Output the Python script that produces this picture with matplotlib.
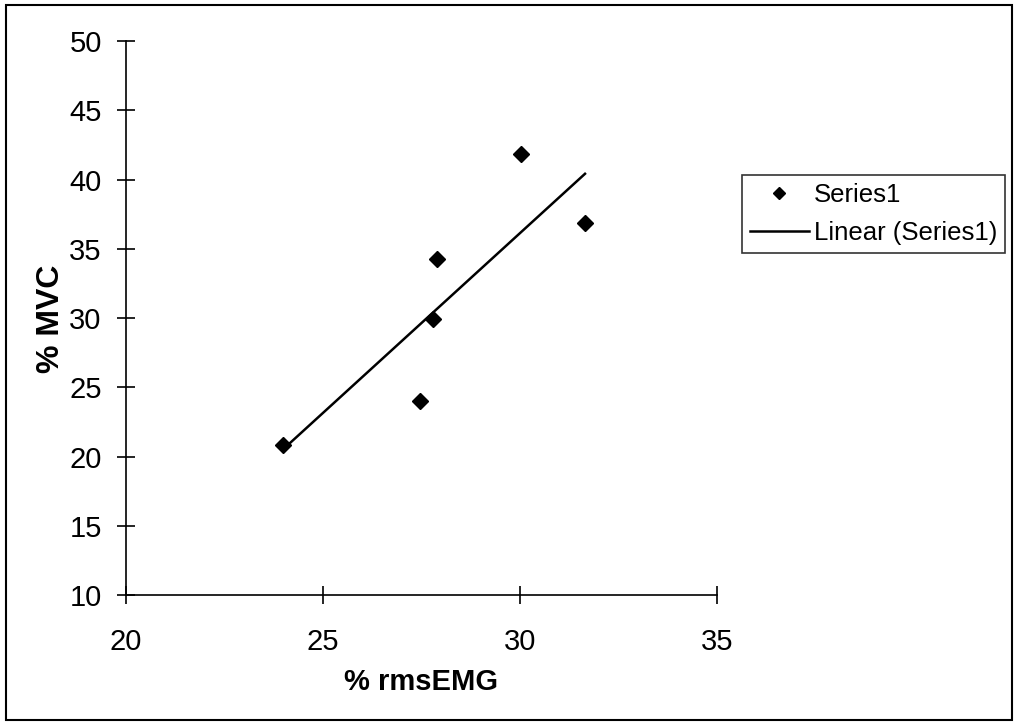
import numpy as np
import matplotlib
matplotlib.use('Agg')
from matplotlib import pyplot as plt
from matplotlib.patches import Rectangle

# %rmsEMG vs %MVC measurements
rms_emg = [23.99, 27.46, 27.78, 27.90, 30.03, 31.65]
mvc = [20.83, 24.01, 29.91, 34.28, 41.82, 36.88]

x_ticks = [20, 25, 30, 35]
y_ticks = [10, 15, 20, 25, 30, 35, 40, 45, 50]

plt.rcParams['font.family'] = ['Liberation Sans', 'DejaVu Sans']

fig = plt.figure(figsize=(10.16, 7.26), dpi=100)
ax = fig.add_axes([0.124, 0.1804, 0.5817, 0.7631])

# scatter points
ax.plot(rms_emg, mvc, 'D', color='black', markersize=8.5, label='Series1',
        clip_on=False, zorder=3)

# least squares trendline over the data range
slope, intercept = np.polyfit(rms_emg, mvc, 1)
xs = np.array([min(rms_emg), max(rms_emg)])
ax.plot(xs, slope * xs + intercept, color='black', lw=1.8,
        label='Linear (Series1)')

ax.set_xlim(20, 35)
ax.set_ylim(10, 50)
ax.set_xticks(x_ticks)
ax.set_yticks(y_ticks)

for s in ['top', 'right']:
    ax.spines[s].set_visible(False)
for s in ['left', 'bottom']:
    ax.spines[s].set_linewidth(1.2)
    ax.spines[s].set_color('black')

ax.tick_params(axis='both', direction='inout', length=13, width=1.2,
               labelsize=21, colors='black')
ax.tick_params(axis='y', pad=11)
ax.tick_params(axis='x', pad=17)

ax.set_xlabel('% rmsEMG', fontsize=21, fontweight='bold')
ax.set_ylabel('% MVC', fontsize=23, fontweight='bold')
ax.xaxis.set_label_coords(0.5, -0.132)
ax.yaxis.set_label_coords(-0.1015, 0.498)

leg = ax.legend(loc='upper left', bbox_to_anchor=(0.7303, 0.759),
                bbox_transform=fig.transFigure, fontsize=18.5,
                frameon=True, fancybox=False, edgecolor='black',
                borderpad=0.3, handlelength=2.3, handletextpad=0.2,
                labelspacing=0.55, borderaxespad=0, markerscale=0.75)
leg.get_frame().set_linewidth(1.2)

# chart area border
fig.patches.append(Rectangle((0.006, 0.008), 0.990, 0.985, transform=fig.transFigure,
                             fill=False, edgecolor='black', lw=1.5))

fig.savefig('out.png', dpi=100)
